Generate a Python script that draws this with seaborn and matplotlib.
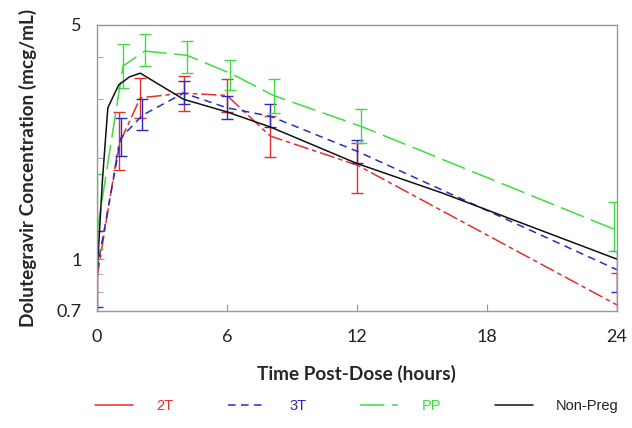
import numpy as np
import pandas as pd
import matplotlib
matplotlib.use("Agg")
import matplotlib.pyplot as plt
import seaborn as sns
from matplotlib.lines import Line2D
from matplotlib.ticker import FixedLocator, FixedFormatter, NullFormatter

# valores (mcg/mL)
t_2t = [0, 1, 2, 4, 6, 8, 12, 24]
m_2t = [0.88, 2.19, 3.03, 3.13, 3.08, 2.33, 1.91, 0.73]
lo_2t = [0.62, 1.84, 2.64, 2.77, 2.75, 2.02, 1.58, 0.58]
hi_2t = [1.21, 2.75, 3.47, 3.51, 3.45, 2.67, 2.22, 0.91]

t_3t = [0, 1.1, 2.1, 4, 6, 8, 12, 24]
m_3t = [0.93, 2.30, 2.69, 3.13, 2.83, 2.67, 2.10, 0.93]
lo_3t = [0.72, 2.03, 2.43, 2.90, 2.62, 2.48, 1.93, 0.80]
hi_3t = [1.21, 2.64, 3.00, 3.40, 3.06, 2.90, 2.27, 1.06]

t_pp = [0, 1.2, 2.2, 4.15, 6.15, 8.15, 12.2, 23.85]
m_pp = [1.20, 3.77, 4.18, 4.06, 3.59, 3.08, 2.49, 1.23]
lo_pp = [1.07, 3.24, 3.78, 3.59, 3.20, 2.73, 2.22, 1.06]
hi_pp = [1.80, 4.39, 4.71, 4.48, 3.93, 3.45, 2.80, 1.48]

t_np = [0, 0.25, 0.5, 1, 1.5, 2, 3, 4, 6, 8, 12, 16, 24]
m_np = [0.90, 1.72, 2.83, 3.31, 3.50, 3.59, 3.28, 3.00, 2.75, 2.48, 1.93, 1.57, 1.00]

xticks = [0, 6, 12, 18, 24]
yticks = [0.7, 1, 5]
ytick_labels = ["0.7", "1", "5"]
yminor = [0.8, 0.9, 2, 3, 4]

c_red = "#e0302f"
c_blue = "#2b2bbf"
c_green = "#3fdc3f"
c_black = "#111111"

sns.set_style("white")
plt.rcParams["font.family"] = ["Lato", "DejaVu Sans"]

fig = plt.figure(figsize=(6.32, 4.28), dpi=100)
ax = fig.add_axes([0.1535, 0.2734, 0.8225, 0.6682])

series = [
    ("2T", t_2t, m_2t, lo_2t, hi_2t, c_red, (0, (10, 2.5, 3, 2.5))),
    ("3T", t_3t, m_3t, lo_3t, hi_3t, c_blue, (0, (5, 3.5))),
    ("PP", t_pp, m_pp, lo_pp, hi_pp, c_green, (0, (16, 5))),
]

for name, t, m, lo, hi, col, ls in series:
    df = pd.DataFrame({"t": t, "c": m})
    sns.lineplot(data=df, x="t", y="c", color=col, linestyle=ls, lw=1.1, ax=ax)
    m_a = np.array(m)
    ax.errorbar(t, m, yerr=[m_a - np.array(lo), np.array(hi) - m_a], fmt="none",
                ecolor=col, elinewidth=1, capsize=4.5, capthick=1)

df_np = pd.DataFrame({"t": t_np, "c": m_np})
sns.lineplot(data=df_np, x="t", y="c", color=c_black, lw=1.1, ax=ax)

ax.set_yscale("log")
ax.set_xlim(0, 24)
ax.set_ylim(0.7, 5)
ax.yaxis.set_major_locator(FixedLocator(yticks))
ax.yaxis.set_major_formatter(FixedFormatter(ytick_labels))
ax.yaxis.set_minor_locator(FixedLocator(yminor))
ax.yaxis.set_minor_formatter(NullFormatter())
ax.set_xticks(xticks)
ax.tick_params(axis="both", which="both", direction="in", color="#999999",
               labelsize=13, labelcolor="#222222")
ax.tick_params(axis="y", which="major", length=5, left=True, pad=11)
ax.tick_params(axis="y", which="minor", length=4, left=True)
ax.tick_params(axis="x", length=5, bottom=True, pad=13)
for sp in ax.spines.values():
    sp.set_color("#999999")
    sp.set_linewidth(1)

ax.set_xlabel("Time Post-Dose (hours)", fontsize=13.7, fontweight="bold", labelpad=14)
ax.set_ylabel("Dolutegravir Concentration (mcg/mL)", fontsize=13.7, fontweight="bold", labelpad=14)

handles = [
    Line2D([], [], color=c_red, lw=1.1),
    Line2D([], [], color=c_blue, lw=1.1, linestyle=(0, (5, 3.5))),
    Line2D([], [], color=c_green, lw=1.1, linestyle=(0, (16, 5))),
    Line2D([], [], color=c_black, lw=1.1),
]
leg = fig.legend(handles, ["2T", "3T", "PP", "Non-Preg"], loc="center",
                 bbox_to_anchor=(0.565, 0.051), ncol=4, frameon=False,
                 handlelength=2.6, handletextpad=1.6, columnspacing=3.7,
                 prop={"family": "Liberation Sans", "size": 10.5})
for txt, col in zip(leg.get_texts(), [c_red, c_blue, c_green, "#222222"]):
    txt.set_color(col)

fig.savefig("out.png", dpi=100)
